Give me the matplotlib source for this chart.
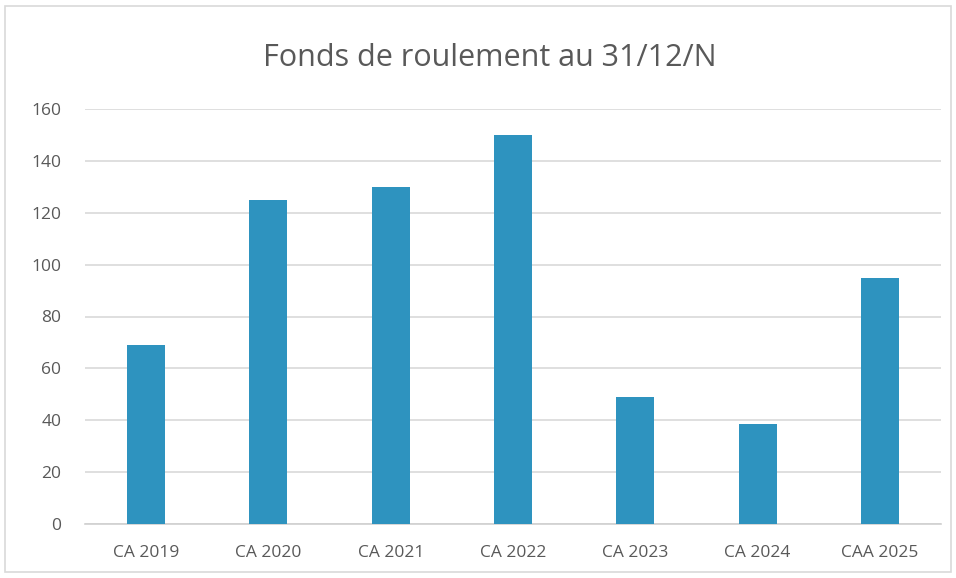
import matplotlib
matplotlib.use("Agg")
import matplotlib.pyplot as plt
from matplotlib.patches import Rectangle

categories = ["CA 2019", "CA 2020", "CA 2021", "CA 2022", "CA 2023", "CA 2024", "CAA 2025"]
values = [69, 125, 130, 150, 49, 38.5, 95]
yticks = [0, 20, 40, 60, 80, 100, 120, 140, 160]
title = "Fonds de roulement au 31/12/N"

plt.rcParams['font.family'] = ['Open Sans', 'DejaVu Sans']
W, H = 956, 578
fig = plt.figure(figsize=(W/100, H/100), dpi=100)
fig.patch.set_facecolor("white")

# outer chart frame
fig.patches.append(Rectangle((5/W, 6/H), 946/W, 566/H, transform=fig.transFigure,
                             fill=False, edgecolor="#D9D9D9", linewidth=1.2))

ax = fig.add_axes([85/W, (H-524)/H, (941-85)/W, (524-109)/H])
x = range(len(categories))
ax.bar(x, values, width=0.31, color="#2E93BF", zorder=3)
ax.set_xlim(-0.5, len(categories)-0.5)
ax.set_ylim(0, 160)
ax.set_yticks(yticks)
ax.set_xticks(list(x))
ax.set_xticklabels(categories)
ax.grid(axis="y", color="#D9D9D9", linewidth=1.2, zorder=0)
for s in ["top", "right", "left"]:
    ax.spines[s].set_visible(False)
ax.spines["bottom"].set_color("#D0D0D0")
ax.spines["bottom"].set_linewidth(1.2)
ax.tick_params(axis="both", length=0, colors="#595959", labelsize=12.5)
ax.tick_params(axis="x", pad=15)
ax.tick_params(axis="y", pad=17)

fig.text(490/W, (H-58)/H, title, ha="center", va="center", fontsize=22, color="#595959")

fig.savefig("out.png", dpi=100)
